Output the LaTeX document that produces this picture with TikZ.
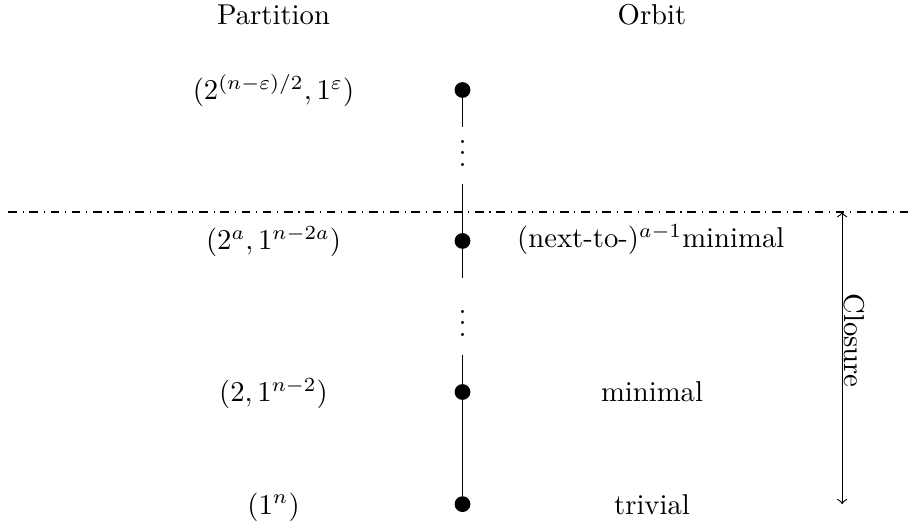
\documentclass[tikz,border=0pt]{standalone}
\usepackage{amsmath}

\begin{document}
\begin{tikzpicture}[
        orbitdot/.style={circle, fill, inner sep=0pt, minimum size=5.5pt},
        lbl/.style={anchor=base},
        gapdots/.style={anchor=base, inner sep=0pt},
        closurelbl/.style={rotate=-90, anchor=south, inner sep=0.5pt}]
        \useasboundingbox (0,0) rectangle (11.164,6.458);
        % Column headers
        \node[lbl] (parthead) at (3.352,6.152) {Partition};
        \node[lbl] (orbhead) at (7.990,6.152) {Orbit};
        % Orbit dots
        \foreach \n/\y in {p1/5.355, p2/3.505, p3/1.654, p4/0.280} {
            \node[orbitdot] (\n) at (5.668,\y) {};
        }
        \node[gapdots] (v1) at (5.668,4.418) {$\vdots$};
        \node[gapdots] (v2) at (5.668,2.335) {$\vdots$};
        % Partitions
        \foreach \n/\y/\txt in {part1/5.233/{$(2^{(n-\varepsilon)/2}, 1^\varepsilon)$},
                                part2/3.401/{$(2^a, 1^{n-2a})$},
                                part3/1.532/{$(2, 1^{n-2})$},
                                part4/0.158/{$(1^n)$}} {
            \node[lbl] (\n) at (3.352,\y) {\txt};
        }
        % Orbits
        \node[lbl] (orb2) at (7.975,3.420) {(next-to-)$^{a-1}$minimal};
        \node[lbl] (orb3) at (7.990,1.532) {minimal};
        \node[lbl] (orb4) at (7.990,0.158) {trivial};
        % Hasse line
        \coordinate (a1) at (5.668,4.902);
        \coordinate (b1) at (5.668,4.203);
        \coordinate (a2) at (5.668,3.051);
        \coordinate (b2) at (5.668,2.108);
        \draw (p1) -- (a1);
        \draw (b1) -- (p2) -- (a2);
        \draw (b2) -- (p3) -- (p4);
        % Cut
        \coordinate (cutl) at (0.10,3.86);
        \coordinate (cutr) at (11.13,3.86);
        \draw[dash dot] (cutl) -- (cutr);
        % Closure
        \coordinate (ctop) at (10.32,3.86);
        \coordinate (cbot) at (10.32,0.28);
        \draw[<->] (ctop) -- node[closurelbl, pos=0.44] {Closure} (cbot);
    \end{tikzpicture}
\end{document}
